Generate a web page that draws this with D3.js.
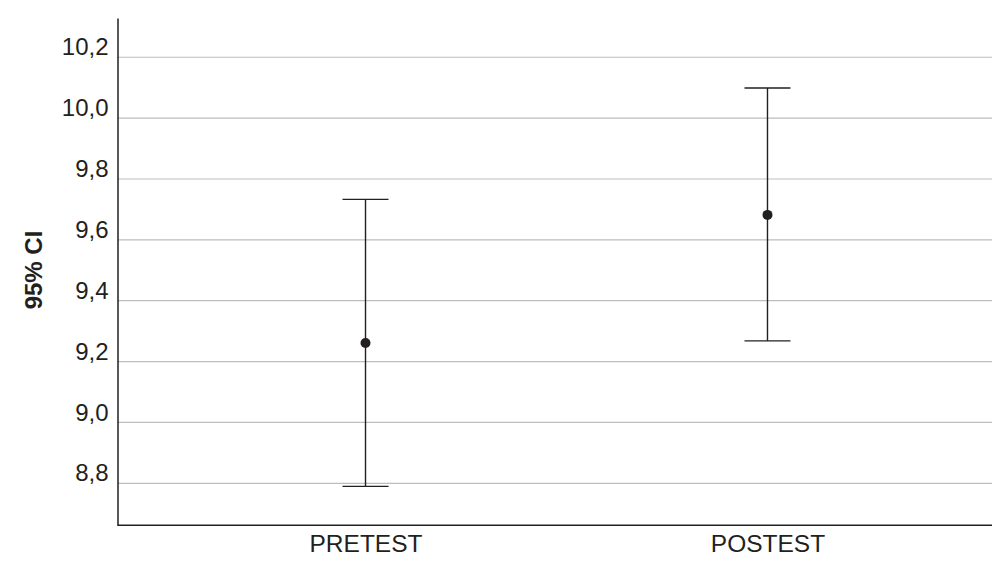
<!DOCTYPE html>
<html>
<head>
<meta charset="utf-8">
<script src="https://cdn.jsdelivr.net/npm/d3@7"></script>
<style>
  body { margin: 0; background: #fff; }
  text { font-family: Arial, "Liberation Sans", sans-serif; fill: #231f20; }
</style>
</head>
<body>
<svg id="root"></svg>
<script>
// data (95% CI of the mean)
const groups = ["PRETEST", "POSTEST"];
const means = [9.261, 9.682];
const lower = [8.790, 9.268];
const upper = [9.733, 10.099];
const yTicks = [8.8, 9.0, 9.2, 9.4, 9.6, 9.8, 10.0, 10.2];

const width = 992;
const height = 571;
const margin = { top: 18, left: 117.5, bottom: 45.7, right: -23.5 };

const svg = d3.select("#root").attr("width", width).attr("height", height);

const x = d3.scalePoint()
  .domain(groups)
  .range([margin.left, width - margin.right])
  .padding(0.617);

const y = d3.scaleLinear()
  .domain([8.662, 10.329])
  .range([height - margin.bottom, margin.top]);

const fmt = (d) => d3.format(".1f")(d).replace(".", ",");

// gridlines
svg.append("g")
  .selectAll("line")
  .data(yTicks)
  .enter()
  .append("line")
  .attr("x1", margin.left)
  .attr("x2", width)
  .attr("y1", (d) => y(d))
  .attr("y2", (d) => y(d))
  .attr("stroke", "#bdbdbd")
  .attr("stroke-width", 1.2);

// y axis
const yAxis = svg.append("g")
  .attr("transform", `translate(${margin.left},0)`)
  .call(d3.axisLeft(y).tickValues(yTicks).tickFormat(fmt).tickSize(0).tickPadding(9));
yAxis.select(".domain").attr("stroke", "#231f20").attr("stroke-width", 1.5);
yAxis.selectAll("text")
  .style("font-size", "24px")
  .attr("fill", "#231f20")
  .attr("dy", "-0.1em");

// x axis
const xAxis = svg.append("g")
  .attr("transform", `translate(0,${y.range()[0]})`)
  .call(d3.axisBottom(x).tickSize(0).tickPadding(9));
xAxis.select(".domain")
  .attr("d", `M${margin.left},0H${width}`)
  .attr("stroke", "#231f20")
  .attr("stroke-width", 1.5);
xAxis.selectAll("text")
  .style("font-size", "24.5px")
  .attr("fill", "#231f20");

// y label
svg.append("text")
  .attr("transform", `translate(42,${270}) rotate(-90)`)
  .attr("text-anchor", "middle")
  .style("font-size", "24px")
  .style("font-weight", "bold")
  .text("95% CI");

// error bars
const capW = 23;
const bars = svg.append("g")
  .selectAll("g")
  .data(groups)
  .enter()
  .append("g")
  .attr("stroke", "#231f20")
  .attr("stroke-width", 1.4);

bars.append("line")
  .attr("x1", (d) => x(d))
  .attr("x2", (d) => x(d))
  .attr("y1", (d, i) => y(upper[i]))
  .attr("y2", (d, i) => y(lower[i]));

bars.append("line")
  .attr("x1", (d) => x(d) - capW)
  .attr("x2", (d) => x(d) + capW)
  .attr("y1", (d, i) => y(upper[i]))
  .attr("y2", (d, i) => y(upper[i]));

bars.append("line")
  .attr("x1", (d) => x(d) - capW)
  .attr("x2", (d) => x(d) + capW)
  .attr("y1", (d, i) => y(lower[i]))
  .attr("y2", (d, i) => y(lower[i]));

svg.append("g")
  .selectAll("circle")
  .data(groups)
  .enter()
  .append("circle")
  .attr("cx", (d) => x(d))
  .attr("cy", (d, i) => y(means[i]))
  .attr("r", 5)
  .attr("fill", "#231f20");
</script>
</body>
</html>
